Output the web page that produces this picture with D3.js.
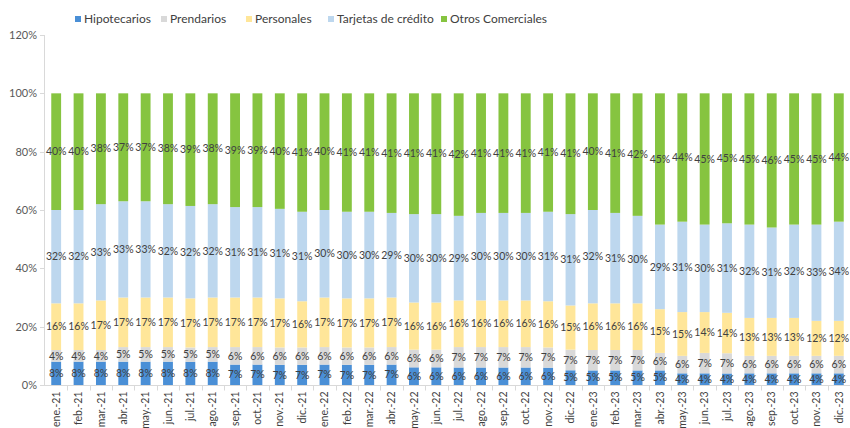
<!DOCTYPE html>
<html>
<head>
<meta charset="utf-8">
<script src="https://cdn.jsdelivr.net/npm/d3@7"></script>
<style>
  body { margin: 0; background: #fff; }
  text { font-family: Lato, "Liberation Sans", Arial, sans-serif; }
</style>
</head>
<body>
<div id="chart"></div>
<script>
// months
var months = ["ene.-21","feb.-21","mar.-21","abr.-21","may.-21","jun.-21","jul.-21","ago.-21","sep.-21","oct.-21","nov.-21","dic.-21",
              "ene.-22","feb.-22","mar.-22","abr.-22","may.-22","jun.-22","jul.-22","ago.-22","sep.-22","oct.-22","nov.-22","dic.-22",
              "ene.-23","feb.-23","mar.-23","abr.-23","may.-23","jun.-23","jul.-23","ago.-23","sep.-23","oct.-23","nov.-23","dic.-23"];

var seriesNames = ["Hipotecarios","Prendarios","Personales","Tarjetas de crédito","Otros Comerciales"];
var colors = ["#4a8fd6","#d9d9d9","#ffe699","#bdd7ee","#86c440"];

// shares in % (as labelled)
var hipotecarios = [8,8,8,8,8,8,8,8,7,7,7,7, 7,7,7,7,6,6,6,6,6,6,6,5, 5,5,5,5,4,4,4,4,4,4,4,4];
var prendarios   = [4,4,4,5,5,5,5,5,6,6,6,6, 6,6,6,6,6,6,7,7,7,7,7,7, 7,7,7,6,6,7,7,6,6,6,6,6];
var personales   = [16,16,17,17,17,17,17,17,17,17,17,16, 17,17,17,17,16,16,16,16,16,16,16,15, 16,16,16,15,15,14,14,13,13,13,12,12];
var tarjetas     = [32,32,33,33,33,32,32,32,31,31,31,31, 30,30,30,29,30,30,29,30,30,30,31,31, 32,31,30,29,31,30,31,32,31,32,33,34];
var otros        = [40,40,38,37,37,38,39,38,39,39,40,41, 40,41,41,41,41,41,42,41,41,41,41,41, 40,41,42,45,44,45,45,45,46,45,45,44];

var yTicks = [0,0.2,0.4,0.6,0.8,1,1.2];

var margin = {top: 35, left: 45, right: 0, bottom: 43},
    width = 850,
    height = 428;

var svg = d3.select("#chart").append("svg")
  .attr("width", width)
  .attr("height", height);

// build rows for the stack (100% stacked)
var allSeries = [hipotecarios, prendarios, personales, tarjetas, otros];
var rows = months.map(function(m, i) {
  var r = {month: m};
  seriesNames.forEach(function(s, k) { r[s] = allSeries[k][i]; });
  return r;
});
var stacked = d3.stack().keys(seriesNames).offset(d3.stackOffsetExpand)(rows);

var x = d3.scaleBand()
  .domain(months)
  .range([margin.left, width - margin.right])
  .paddingInner(0.56)
  .paddingOuter(0.28);

var y = d3.scaleLinear()
  .domain([0, 1.2])
  .range([height - margin.bottom, margin.top]);

// y axis line
svg.append("line")
  .attr("x1", margin.left - 0.5).attr("x2", margin.left - 0.5)
  .attr("y1", y(1.2)).attr("y2", y(0))
  .attr("stroke", "#d9d9d9");

svg.selectAll(".ytick")
  .data(yTicks)
  .enter().append("line")
  .attr("x1", margin.left - 5).attr("x2", margin.left)
  .attr("y1", function(d) { return Math.round(y(d)) + 0.5; })
  .attr("y2", function(d) { return Math.round(y(d)) + 0.5; })
  .attr("stroke", "#d9d9d9");

svg.selectAll(".ylab")
  .data(yTicks)
  .enter().append("text")
  .attr("x", margin.left - 8)
  .attr("y", function(d) { return y(d); })
  .attr("dy", "0.35em")
  .attr("text-anchor", "end")
  .style("font-size", "11px")
  .style("fill", "#595959")
  .text(d3.format(".0%"));

// bars
var layer = svg.selectAll(".layer")
  .data(stacked)
  .enter().append("g")
  .attr("fill", function(d, i) { return colors[i]; });

layer.selectAll("rect")
  .data(function(d) { return d; })
  .enter().append("rect")
  .attr("x", function(d) { return x(d.data.month); })
  .attr("width", x.bandwidth())
  .attr("y", function(d) { return y(d[1]); })
  .attr("height", function(d) { return y(d[0]) - y(d[1]); });

// data labels
var labels = svg.selectAll(".lab")
  .data(stacked)
  .enter().append("g");

labels.selectAll("text")
  .data(function(d) { return d.map(function(p) { return {p: p, key: d.key}; }); })
  .enter().append("text")
  .attr("x", function(d) { return x(d.p.data.month) + x.bandwidth() / 2; })
  .attr("y", function(d) { return y((d.p[0] + d.p[1]) / 2); })
  .attr("dy", "0.35em")
  .attr("text-anchor", "middle")
  .style("font-size", "10.5px")
  .style("fill", "#404040")
  .text(function(d) { return d.p.data[d.key] + "%"; });

// x axis
var x0 = Math.round(y(0)) + 0.5;
svg.append("line")
  .attr("x1", margin.left).attr("x2", width - margin.right)
  .attr("y1", x0).attr("y2", x0)
  .attr("stroke", "#d9d9d9");

var step = x.step();
svg.selectAll(".xtick")
  .data(months.slice(1))
  .enter().append("line")
  .attr("x1", function(d) { return Math.round(x(d) - (step - x.bandwidth()) / 2) + 0.5; })
  .attr("x2", function(d) { return Math.round(x(d) - (step - x.bandwidth()) / 2) + 0.5; })
  .attr("y1", x0).attr("y2", x0 + 5)
  .attr("stroke", "#d9d9d9");

svg.selectAll(".xlab")
  .data(months)
  .enter().append("text")
  .attr("transform", function(d) {
    return "translate(" + (x(d) + x.bandwidth() / 2) + "," + (x0 + 6) + ") rotate(-90)";
  })
  .attr("dy", "0.35em")
  .attr("text-anchor", "end")
  .style("font-size", "10.5px")
  .style("fill", "#404040")
  .text(function(d) { return d; });

// legend
var legendX = [75, 161, 246, 328, 441];
var legend = svg.selectAll(".leg")
  .data(seriesNames)
  .enter().append("g")
  .attr("transform", function(d, i) { return "translate(" + legendX[i] + ",19)"; });

legend.append("rect")
  .attr("x", 0).attr("y", -3)
  .attr("width", 6).attr("height", 6)
  .attr("fill", function(d, i) { return colors[i]; });

legend.append("text")
  .attr("x", 9)
  .attr("dy", "0.35em")
  .style("font-size", "12px")
  .style("fill", "#404040")
  .text(function(d) { return d; });
</script>
</body>
</html>
